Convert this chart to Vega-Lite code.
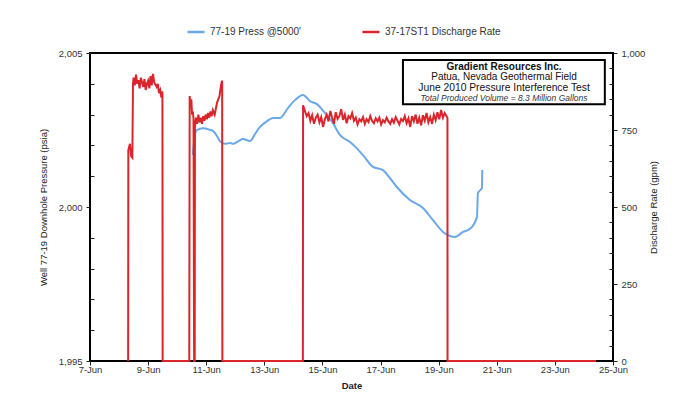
{
  "$schema": "https://vega.github.io/schema/vega-lite/v6.json",
  "width": 523,
  "height": 308,
  "autosize": {"type": "none"},
  "padding": {"left": 90, "top": 53, "right": 84, "bottom": 44},
  "background": "white",
  "config": {
    "font": "Liberation Sans",
    "view": {"stroke": "black", "strokeWidth": 2},
    "axis": {
      "labelFont": "Liberation Sans",
      "labelFontSize": 9.5,
      "labelColor": "#333",
      "titleFont": "Liberation Sans",
      "titleFontSize": 9.5,
      "titleColor": "#222",
      "titleFontWeight": "normal",
      "domain": false,
      "grid": false,
      "tickColor": "#222",
      "tickWidth": 1,
      "labelOverlap": false
    },
    "legend": {"labelFont": "Liberation Sans", "labelFontSize": 10, "labelColor": "#333"}
  },
  "datasets": {
    "pressure": [
      {"time": "2010-06-10T13:00Z", "pressure": 2001.69},
      {"time": "2010-06-10T14:40Z", "pressure": 2002.34},
      {"time": "2010-06-10T16:20Z", "pressure": 2002.5},
      {"time": "2010-06-10T21:20Z", "pressure": 2002.56},
      {"time": "2010-06-11T02:00Z", "pressure": 2002.52},
      {"time": "2010-06-11T05:30Z", "pressure": 2002.47},
      {"time": "2010-06-11T09:00Z", "pressure": 2002.3},
      {"time": "2010-06-11T11:15Z", "pressure": 2002.14},
      {"time": "2010-06-11T15:35Z", "pressure": 2002.05},
      {"time": "2010-06-11T19:40Z", "pressure": 2002.08},
      {"time": "2010-06-11T22:05Z", "pressure": 2002.05},
      {"time": "2010-06-12T03:00Z", "pressure": 2002.15},
      {"time": "2010-06-12T06:14Z", "pressure": 2002.21},
      {"time": "2010-06-12T12:14Z", "pressure": 2002.14},
      {"time": "2010-06-12T16:00Z", "pressure": 2002.35},
      {"time": "2010-06-12T20:24Z", "pressure": 2002.6},
      {"time": "2010-06-13T02:00Z", "pressure": 2002.78},
      {"time": "2010-06-13T07:12Z", "pressure": 2002.89},
      {"time": "2010-06-13T12:58Z", "pressure": 2002.89},
      {"time": "2010-06-13T19:26Z", "pressure": 2003.21},
      {"time": "2010-06-14T01:12Z", "pressure": 2003.47},
      {"time": "2010-06-14T07:55Z", "pressure": 2003.64},
      {"time": "2010-06-14T13:41Z", "pressure": 2003.44},
      {"time": "2010-06-14T19:26Z", "pressure": 2003.34},
      {"time": "2010-06-15T02:10Z", "pressure": 2003.05},
      {"time": "2010-06-15T08:38Z", "pressure": 2002.73},
      {"time": "2010-06-15T14:24Z", "pressure": 2002.34},
      {"time": "2010-06-15T22:48Z", "pressure": 2002.11},
      {"time": "2010-06-16T04:00Z", "pressure": 2001.92},
      {"time": "2010-06-16T09:22Z", "pressure": 2001.69},
      {"time": "2010-06-16T17:46Z", "pressure": 2001.3},
      {"time": "2010-06-17T01:55Z", "pressure": 2001.2},
      {"time": "2010-06-17T07:30Z", "pressure": 2000.95},
      {"time": "2010-06-17T13:26Z", "pressure": 2000.65},
      {"time": "2010-06-18T00:14Z", "pressure": 2000.23},
      {"time": "2010-06-18T11:02Z", "pressure": 1999.97},
      {"time": "2010-06-18T19:12Z", "pressure": 1999.58},
      {"time": "2010-06-19T03:36Z", "pressure": 1999.19},
      {"time": "2010-06-19T09:22Z", "pressure": 1999.06},
      {"time": "2010-06-19T13:26Z", "pressure": 1999.03},
      {"time": "2010-06-19T20:10Z", "pressure": 1999.19},
      {"time": "2010-06-20T01:55Z", "pressure": 1999.29},
      {"time": "2010-06-20T07:41Z", "pressure": 1999.68},
      {"time": "2010-06-20T08:24Z", "pressure": 2000.45},
      {"time": "2010-06-20T11:46Z", "pressure": 2000.62},
      {"time": "2010-06-20T12:00Z", "pressure": 2001.2}
    ],
    "discharge": [
      {"time": "2010-06-08T07:30Z", "rate": 0},
      {"time": "2010-06-08T07:40Z", "rate": 685},
      {"time": "2010-06-08T09:00Z", "rate": 705},
      {"time": "2010-06-08T10:00Z", "rate": 665},
      {"time": "2010-06-08T11:00Z", "rate": 660},
      {"time": "2010-06-08T11:30Z", "rate": 900},
      {"time": "2010-06-08T12:00Z", "rate": 920},
      {"time": "2010-06-08T13:00Z", "rate": 895},
      {"time": "2010-06-08T14:00Z", "rate": 930},
      {"time": "2010-06-08T15:00Z", "rate": 900},
      {"time": "2010-06-08T16:00Z", "rate": 912},
      {"time": "2010-06-08T17:00Z", "rate": 885},
      {"time": "2010-06-08T18:00Z", "rate": 920},
      {"time": "2010-06-08T19:00Z", "rate": 905},
      {"time": "2010-06-08T20:00Z", "rate": 890},
      {"time": "2010-06-08T21:00Z", "rate": 915},
      {"time": "2010-06-08T22:00Z", "rate": 880},
      {"time": "2010-06-08T23:00Z", "rate": 900},
      {"time": "2010-06-09T00:00Z", "rate": 910},
      {"time": "2010-06-09T01:00Z", "rate": 885},
      {"time": "2010-06-09T02:00Z", "rate": 925},
      {"time": "2010-06-09T03:00Z", "rate": 895},
      {"time": "2010-06-09T04:00Z", "rate": 932},
      {"time": "2010-06-09T05:00Z", "rate": 905},
      {"time": "2010-06-09T06:00Z", "rate": 898},
      {"time": "2010-06-09T07:00Z", "rate": 890},
      {"time": "2010-06-09T08:00Z", "rate": 900},
      {"time": "2010-06-09T09:00Z", "rate": 870},
      {"time": "2010-06-09T10:00Z", "rate": 880},
      {"time": "2010-06-09T11:00Z", "rate": 855},
      {"time": "2010-06-09T11:50Z", "rate": 875},
      {"time": "2010-06-09T12:00Z", "rate": 0},
      {"time": "2010-06-10T10:00Z", "rate": 0},
      {"time": "2010-06-10T10:20Z", "rate": 860},
      {"time": "2010-06-10T11:00Z", "rate": 835},
      {"time": "2010-06-10T11:40Z", "rate": 850},
      {"time": "2010-06-10T12:20Z", "rate": 800},
      {"time": "2010-06-10T13:00Z", "rate": 810},
      {"time": "2010-06-10T13:30Z", "rate": 785},
      {"time": "2010-06-10T14:00Z", "rate": 0},
      {"time": "2010-06-10T14:30Z", "rate": 0},
      {"time": "2010-06-10T14:40Z", "rate": 760},
      {"time": "2010-06-10T15:30Z", "rate": 790},
      {"time": "2010-06-10T16:30Z", "rate": 770},
      {"time": "2010-06-10T17:30Z", "rate": 800},
      {"time": "2010-06-10T18:30Z", "rate": 775},
      {"time": "2010-06-10T19:30Z", "rate": 790},
      {"time": "2010-06-10T20:30Z", "rate": 770},
      {"time": "2010-06-10T21:30Z", "rate": 795},
      {"time": "2010-06-10T22:30Z", "rate": 780},
      {"time": "2010-06-10T23:30Z", "rate": 800},
      {"time": "2010-06-11T00:30Z", "rate": 785},
      {"time": "2010-06-11T01:30Z", "rate": 805},
      {"time": "2010-06-11T02:30Z", "rate": 790},
      {"time": "2010-06-11T03:30Z", "rate": 810},
      {"time": "2010-06-11T04:30Z", "rate": 795},
      {"time": "2010-06-11T05:30Z", "rate": 815},
      {"time": "2010-06-11T07:00Z", "rate": 800},
      {"time": "2010-06-11T09:00Z", "rate": 840},
      {"time": "2010-06-11T11:00Z", "rate": 860},
      {"time": "2010-06-11T12:00Z", "rate": 890},
      {"time": "2010-06-11T13:00Z", "rate": 910},
      {"time": "2010-06-11T13:10Z", "rate": 905},
      {"time": "2010-06-11T13:20Z", "rate": 0},
      {"time": "2010-06-14T07:50Z", "rate": 0},
      {"time": "2010-06-14T08:00Z", "rate": 830},
      {"time": "2010-06-14T09:30Z", "rate": 812},
      {"time": "2010-06-14T11:00Z", "rate": 795},
      {"time": "2010-06-14T12:30Z", "rate": 805},
      {"time": "2010-06-14T14:00Z", "rate": 780},
      {"time": "2010-06-14T15:30Z", "rate": 798},
      {"time": "2010-06-14T17:00Z", "rate": 770},
      {"time": "2010-06-14T18:30Z", "rate": 790},
      {"time": "2010-06-14T20:00Z", "rate": 800},
      {"time": "2010-06-14T21:30Z", "rate": 775},
      {"time": "2010-06-14T23:00Z", "rate": 792},
      {"time": "2010-06-15T00:30Z", "rate": 760},
      {"time": "2010-06-15T02:00Z", "rate": 785},
      {"time": "2010-06-15T03:30Z", "rate": 800},
      {"time": "2010-06-15T05:00Z", "rate": 778},
      {"time": "2010-06-15T06:30Z", "rate": 812},
      {"time": "2010-06-15T08:00Z", "rate": 790},
      {"time": "2010-06-15T09:30Z", "rate": 770},
      {"time": "2010-06-15T11:00Z", "rate": 808},
      {"time": "2010-06-15T12:30Z", "rate": 786},
      {"time": "2010-06-15T14:00Z", "rate": 795},
      {"time": "2010-06-15T15:30Z", "rate": 818},
      {"time": "2010-06-15T17:00Z", "rate": 783},
      {"time": "2010-06-15T18:30Z", "rate": 800},
      {"time": "2010-06-15T20:00Z", "rate": 772},
      {"time": "2010-06-15T21:30Z", "rate": 795},
      {"time": "2010-06-15T23:00Z", "rate": 788},
      {"time": "2010-06-16T00:30Z", "rate": 805},
      {"time": "2010-06-16T02:00Z", "rate": 780},
      {"time": "2010-06-16T03:30Z", "rate": 790},
      {"time": "2010-06-16T05:00Z", "rate": 768},
      {"time": "2010-06-16T06:30Z", "rate": 785},
      {"time": "2010-06-16T08:00Z", "rate": 778},
      {"time": "2010-06-16T09:30Z", "rate": 792},
      {"time": "2010-06-16T11:00Z", "rate": 770},
      {"time": "2010-06-16T12:30Z", "rate": 785},
      {"time": "2010-06-16T14:00Z", "rate": 776},
      {"time": "2010-06-16T15:30Z", "rate": 795},
      {"time": "2010-06-16T17:00Z", "rate": 780},
      {"time": "2010-06-16T18:30Z", "rate": 772},
      {"time": "2010-06-16T20:00Z", "rate": 788},
      {"time": "2010-06-16T21:30Z", "rate": 778},
      {"time": "2010-06-16T23:00Z", "rate": 790},
      {"time": "2010-06-17T00:30Z", "rate": 768},
      {"time": "2010-06-17T02:00Z", "rate": 782},
      {"time": "2010-06-17T03:30Z", "rate": 775},
      {"time": "2010-06-17T05:00Z", "rate": 790},
      {"time": "2010-06-17T06:30Z", "rate": 778},
      {"time": "2010-06-17T08:00Z", "rate": 770},
      {"time": "2010-06-17T09:30Z", "rate": 785},
      {"time": "2010-06-17T11:00Z", "rate": 774},
      {"time": "2010-06-17T12:30Z", "rate": 792},
      {"time": "2010-06-17T14:00Z", "rate": 780},
      {"time": "2010-06-17T15:30Z", "rate": 768},
      {"time": "2010-06-17T17:00Z", "rate": 786},
      {"time": "2010-06-17T18:30Z", "rate": 779},
      {"time": "2010-06-17T20:00Z", "rate": 795},
      {"time": "2010-06-17T21:30Z", "rate": 772},
      {"time": "2010-06-17T23:00Z", "rate": 788},
      {"time": "2010-06-18T00:30Z", "rate": 760},
      {"time": "2010-06-18T02:00Z", "rate": 795},
      {"time": "2010-06-18T03:30Z", "rate": 778},
      {"time": "2010-06-18T05:00Z", "rate": 800},
      {"time": "2010-06-18T06:30Z", "rate": 770},
      {"time": "2010-06-18T08:00Z", "rate": 790},
      {"time": "2010-06-18T09:30Z", "rate": 765},
      {"time": "2010-06-18T11:00Z", "rate": 798},
      {"time": "2010-06-18T12:30Z", "rate": 780},
      {"time": "2010-06-18T14:00Z", "rate": 805},
      {"time": "2010-06-18T15:30Z", "rate": 775},
      {"time": "2010-06-18T17:00Z", "rate": 792},
      {"time": "2010-06-18T18:30Z", "rate": 770},
      {"time": "2010-06-18T20:00Z", "rate": 800},
      {"time": "2010-06-18T21:30Z", "rate": 782},
      {"time": "2010-06-18T23:00Z", "rate": 808},
      {"time": "2010-06-19T00:30Z", "rate": 785},
      {"time": "2010-06-19T02:00Z", "rate": 815},
      {"time": "2010-06-19T03:30Z", "rate": 790},
      {"time": "2010-06-19T05:00Z", "rate": 805},
      {"time": "2010-06-19T06:30Z", "rate": 795},
      {"time": "2010-06-19T07:15Z", "rate": 790},
      {"time": "2010-06-19T07:20Z", "rate": 0},
      {"time": "2010-06-24T10:00Z", "rate": 0}
    ]
  },
  "layer": [
    {
      "data": {"name": "pressure"},
      "mark": {"type": "line", "strokeWidth": 2, "interpolate": "monotone"},
      "encoding": {
        "x": {
          "field": "time",
          "type": "temporal",
          "title": "Date",
          "scale": {"type": "utc", "domain": [{"year": 2010, "month": 6, "date": 7, "utc": true}, {"year": 2010, "month": 6, "date": 25, "utc": true}]},
          "axis": {
            "values": [
              {"year": 2010, "month": 6, "date": 7, "utc": true}, {"year": 2010, "month": 6, "date": 8, "utc": true},
              {"year": 2010, "month": 6, "date": 9, "utc": true}, {"year": 2010, "month": 6, "date": 10, "utc": true},
              {"year": 2010, "month": 6, "date": 11, "utc": true}, {"year": 2010, "month": 6, "date": 12, "utc": true},
              {"year": 2010, "month": 6, "date": 13, "utc": true}, {"year": 2010, "month": 6, "date": 14, "utc": true},
              {"year": 2010, "month": 6, "date": 15, "utc": true}, {"year": 2010, "month": 6, "date": 16, "utc": true},
              {"year": 2010, "month": 6, "date": 17, "utc": true}, {"year": 2010, "month": 6, "date": 18, "utc": true},
              {"year": 2010, "month": 6, "date": 19, "utc": true}, {"year": 2010, "month": 6, "date": 20, "utc": true},
              {"year": 2010, "month": 6, "date": 21, "utc": true}, {"year": 2010, "month": 6, "date": 22, "utc": true},
              {"year": 2010, "month": 6, "date": 23, "utc": true}, {"year": 2010, "month": 6, "date": 24, "utc": true},
              {"year": 2010, "month": 6, "date": 25, "utc": true}
            ],
            "labelExpr": "utcdate(datum.value) % 2 == 1 ? utcFormat(datum.value, '%-d-%b') : ''",
            "tickSize": {"condition": {"test": "utcdate(datum.value) % 2 == 1", "value": 4}, "value": -4},
            "labelPadding": -1,
            "labelFlush": false,
            "titleFontWeight": "bold",
            "titlePadding": 7
          }
        },
        "y": {
          "field": "pressure",
          "type": "quantitative",
          "title": "Well 77-19 Downhole Pressure (psia)",
          "scale": {"domain": [1995, 2005], "nice": false, "zero": false},
          "axis": {
            "orient": "left",
            "values": [1995, 1996, 1997, 1998, 1999, 2000, 2001, 2002, 2003, 2004, 2005],
            "labelExpr": "datum.value % 5 == 0 ? format(datum.value, ',') : ''",
            "tickSize": {"condition": {"test": "datum.value % 5 == 0", "value": 4}, "value": -4},
            "labelPadding": 4,
            "labelFlush": false,
            "titlePadding": 10
          }
        },
        "color": {
          "datum": "77-19 Press @5000'",
          "type": "nominal",
          "scale": {"domain": ["77-19 Press @5000'", "37-17ST1 Discharge Rate"], "range": ["#6aa8ea", "#d9252c"]},
          "legend": {
            "title": null,
            "orient": "none",
            "direction": "horizontal",
            "legendX": 96,
            "legendY": -31,
            "symbolType": "stroke",
            "symbolSize": 289,
            "symbolStrokeWidth": 2.5,
            "columnPadding": 55,
            "labelOffset": 4
          }
        }
      }
    },
    {
      "data": {"name": "discharge"},
      "encoding": {
        "x": {"field": "time", "type": "temporal"},
        "y": {
          "field": "rate",
          "type": "quantitative",
          "title": "Discharge Rate (gpm)",
          "scale": {"domain": [0, 1000], "nice": false},
          "axis": {
            "orient": "right",
            "values": [0, 50, 100, 150, 200, 250, 300, 350, 400, 450, 500, 550, 600, 650, 700, 750, 800, 850, 900, 950, 1000],
            "labelExpr": "datum.value % 250 == 0 ? format(datum.value, ',') : ''",
            "tickSize": {"condition": {"test": "datum.value % 250 == 0", "value": 4}, "value": -4},
            "labelPadding": 4,
            "labelFlush": false,
            "titleAngle": 270,
            "titlePadding": 14
          }
        }
      },
      "layer": [
        {
          "mark": {"type": "line", "strokeWidth": 2},
          "encoding": {
            "color": {"datum": "37-17ST1 Discharge Rate", "type": "nominal"}
          }
        },
        {
          "mark": {"type": "rect", "fill": "white", "stroke": "black", "strokeWidth": 2},
          "transform": [{"filter": "datum.rate == 930"}],
          "encoding": {
            "x": {"datum": {"year": 2010, "month": 6, "date": 17, "hours": 18, "minutes": 30, "utc": true}, "type": "temporal"},
            "x2": {"datum": {"year": 2010, "month": 6, "date": 24, "hours": 17, "minutes": 15, "utc": true}},
            "y": {"datum": 977, "type": "quantitative"},
            "y2": {"datum": 834}
          }
        },
        {
          "mark": {"type": "text", "text": "Gradient Resources Inc.", "fontWeight": "bold", "fontSize": 10, "color": "#111", "align": "center", "baseline": "middle"},
          "transform": [{"filter": "datum.rate == 930"}],
          "encoding": {
            "x": {"datum": {"year": 2010, "month": 6, "date": 21, "hours": 6, "utc": true}, "type": "temporal"},
            "y": {"datum": 955, "type": "quantitative"}
          }
        },
        {
          "mark": {"type": "text", "text": "Patua, Nevada Geothermal Field", "fontSize": 10, "color": "#111", "align": "center", "baseline": "middle"},
          "transform": [{"filter": "datum.rate == 930"}],
          "encoding": {
            "x": {"datum": {"year": 2010, "month": 6, "date": 21, "hours": 6, "utc": true}, "type": "temporal"},
            "y": {"datum": 921, "type": "quantitative"}
          }
        },
        {
          "mark": {"type": "text", "text": "June 2010 Pressure Interference Test", "fontSize": 10.3, "color": "#111", "align": "center", "baseline": "middle"},
          "transform": [{"filter": "datum.rate == 930"}],
          "encoding": {
            "x": {"datum": {"year": 2010, "month": 6, "date": 21, "hours": 6, "utc": true}, "type": "temporal"},
            "y": {"datum": 886, "type": "quantitative"}
          }
        },
        {
          "mark": {"type": "text", "text": "Total Produced Volume = 8.3 Million Gallons", "fontSize": 8.5, "fontStyle": "italic", "color": "#333", "align": "center", "baseline": "middle"},
          "transform": [{"filter": "datum.rate == 930"}],
          "encoding": {
            "x": {"datum": {"year": 2010, "month": 6, "date": 21, "hours": 6, "utc": true}, "type": "temporal"},
            "y": {"datum": 853, "type": "quantitative"}
          }
        }
      ]
    }
  ],
  "resolve": {"scale": {"y": "independent"}, "axis": {"y": "independent"}}
}
